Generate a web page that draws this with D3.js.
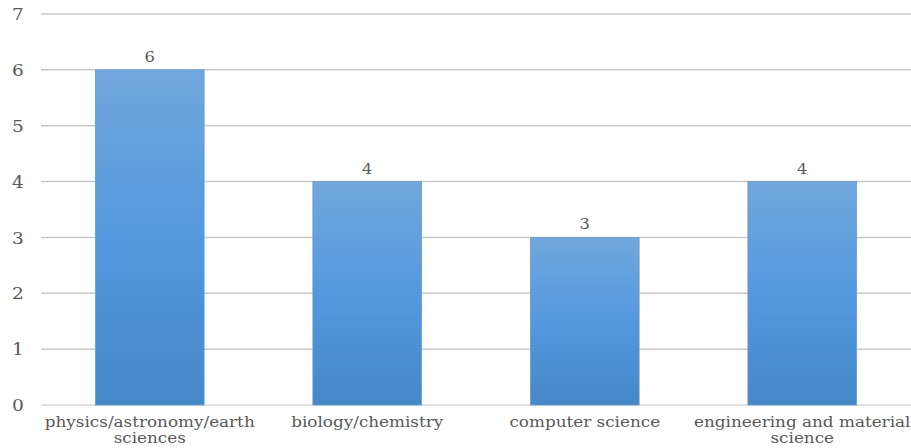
<!DOCTYPE html>
<html>
<head>
<meta charset="utf-8">
<script src="https://cdn.jsdelivr.net/npm/d3@7"></script>
<style>
  html, body { margin: 0; padding: 0; background: #fff; }
  svg { display: block; }
  text { font-family: "DejaVu Serif", "Liberation Serif", serif; fill: #595959; }
</style>
</head>
<body>
<svg id="chart" width="911" height="448"></svg>
<script>
// Number of items per research field
const categories = [
  ["physics/astronomy/earth", "sciences"],
  ["biology/chemistry"],
  ["computer science"],
  ["engineering and material", "science"]
];
const values = [6, 4, 3, 4];
const yTicks = [0, 1, 2, 3, 4, 5, 6, 7];

const width = 911, height = 448;
const margin = { top: 14, right: 0, bottom: 43, left: 41 };
const stretch = 1.16; // horizontal widening of label glyphs

const svg = d3.select("#chart");

const x = d3.scaleBand()
  .domain(d3.range(categories.length))
  .range([margin.left, width - margin.right])
  .paddingInner(0.5)
  .paddingOuter(0.25);

const y = d3.scaleLinear()
  .domain([0, 7])
  .range([height - margin.bottom, margin.top]);

// Vertical gradient for the bars
const defs = svg.append("defs");
const grad = defs.append("linearGradient")
  .attr("id", "barFill")
  .attr("x1", 0).attr("y1", 0).attr("x2", 0).attr("y2", 1);
grad.append("stop").attr("offset", "0%").attr("stop-color", "#71a7dd");
grad.append("stop").attr("offset", "50%").attr("stop-color", "#5499de");
grad.append("stop").attr("offset", "100%").attr("stop-color", "#4488c8");

// Horizontal gridlines
svg.append("g")
  .selectAll("line")
  .data(yTicks)
  .join("line")
  .attr("x1", margin.left)
  .attr("x2", width - margin.right)
  .attr("y1", d => y(d))
  .attr("y2", d => y(d))
  .attr("stroke", d => d === 0 ? "#d6d6d6" : "#c9c9c9")
  .attr("stroke-width", 1.5);

// Y axis labels
const yAxis = d3.axisLeft(y).tickValues(yTicks).tickFormat(d3.format("d")).tickSize(0).tickPadding(0);
const yg = svg.append("g")
  .attr("transform", `translate(${margin.left - 23},0)`)
  .call(yAxis);
yg.select(".domain").remove();
yg.attr("font-family", null).attr("font-size", null);
yg.selectAll("text")
  .attr("x", null)
  .attr("text-anchor", "middle")
  .attr("dy", "0.35em")
  .attr("transform", `scale(${stretch},1)`)
  .style("font-size", "16px")
  .attr("fill", "#595959");

// Bars
svg.append("g")
  .selectAll("rect")
  .data(values)
  .join("rect")
  .attr("x", (d, i) => x(i))
  .attr("width", x.bandwidth())
  .attr("y", d => y(d))
  .attr("height", d => y(0) - y(d))
  .attr("fill", "url(#barFill)")
  .attr("stroke", "#6a9ad0")
  .attr("stroke-width", 0.8);

// Value labels
svg.append("g")
  .selectAll("text")
  .data(values)
  .join("text")
  .attr("transform", (d, i) => `translate(${x(i) + x.bandwidth() / 2},${y(d) - 8}) scale(${stretch},1)`)
  .attr("text-anchor", "middle")
  .style("font-size", "14px")
  .text(d => d);

// Category labels (wrapped)
const cat = svg.append("g")
  .selectAll("text")
  .data(categories)
  .join("text")
  .attr("transform", (d, i) => `translate(${x(i) + x.bandwidth() / 2},${height - margin.bottom + 22}) scale(${stretch},1)`)
  .attr("text-anchor", "middle")
  .style("font-size", "14.5px");
cat.selectAll("tspan")
  .data(d => d)
  .join("tspan")
  .attr("x", 0)
  .attr("dy", (d, i) => i === 0 ? 0 : 16)
  .text(d => d);
</script>
</body>
</html>
